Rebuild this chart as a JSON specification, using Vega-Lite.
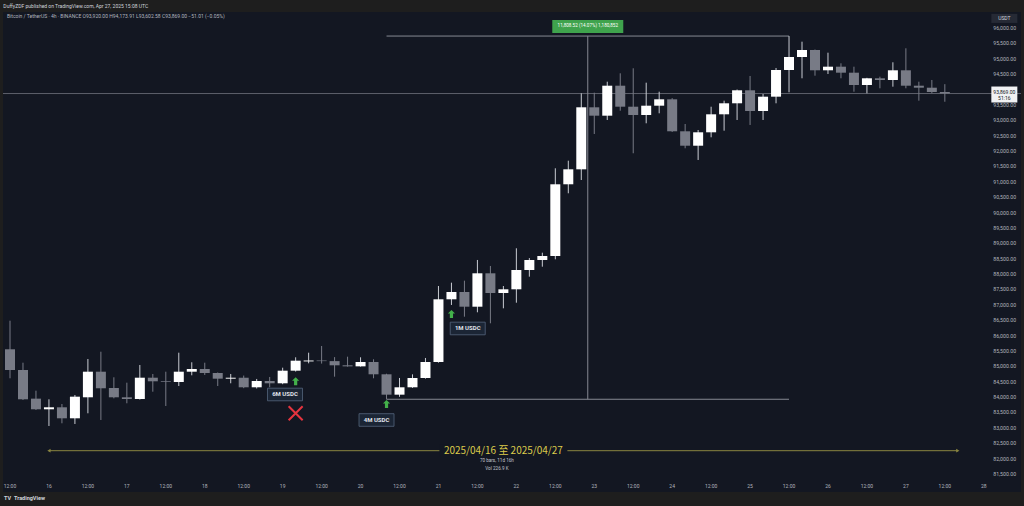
{
  "$schema": "https://vega.github.io/schema/vega-lite/v6.json",
  "width": 1018,
  "height": 480,
  "autosize": {"type": "none"},
  "padding": {"left": 3, "top": 12, "right": 3, "bottom": 14},
  "background": "#1e1e1e",
  "config": {"view": {"fill": "#131722", "stroke": null}, "scale": {"continuousPadding": 0}},
  "datasets": {
    "candles": [
      {"t": "2025-04-15T12:00:00Z", "o": 85555, "h": 86484, "l": 84612, "c": 84882},
      {"t": "2025-04-15T16:00:00Z", "o": 84882, "h": 85119, "l": 83906, "c": 83929},
      {"t": "2025-04-15T20:00:00Z", "o": 83950, "h": 84209, "l": 83581, "c": 83604},
      {"t": "2025-04-16T00:00:00Z", "o": 83604, "h": 83929, "l": 83061, "c": 83669},
      {"t": "2025-04-16T04:00:00Z", "o": 83669, "h": 83776, "l": 83149, "c": 83311},
      {"t": "2025-04-16T08:00:00Z", "o": 83311, "h": 84069, "l": 83126, "c": 84014},
      {"t": "2025-04-16T12:00:00Z", "o": 83994, "h": 85239, "l": 83474, "c": 84826},
      {"t": "2025-04-16T16:00:00Z", "o": 84826, "h": 85476, "l": 83256, "c": 84287},
      {"t": "2025-04-16T20:00:00Z", "o": 84296, "h": 84644, "l": 83960, "c": 83994},
      {"t": "2025-04-17T00:00:00Z", "o": 83994, "h": 84469, "l": 83799, "c": 83939},
      {"t": "2025-04-17T04:00:00Z", "o": 83939, "h": 85044, "l": 83920, "c": 84631},
      {"t": "2025-04-17T08:00:00Z", "o": 84631, "h": 84752, "l": 84176, "c": 84514},
      {"t": "2025-04-17T12:00:00Z", "o": 84514, "h": 84826, "l": 83711, "c": 84491},
      {"t": "2025-04-17T16:00:00Z", "o": 84491, "h": 85444, "l": 84361, "c": 84826},
      {"t": "2025-04-17T20:00:00Z", "o": 84826, "h": 85132, "l": 84709, "c": 84914},
      {"t": "2025-04-18T00:00:00Z", "o": 84914, "h": 85119, "l": 84720, "c": 84784},
      {"t": "2025-04-18T04:00:00Z", "o": 84784, "h": 84800, "l": 84361, "c": 84599},
      {"t": "2025-04-18T08:00:00Z", "o": 84599, "h": 84752, "l": 84449, "c": 84630},
      {"t": "2025-04-18T12:00:00Z", "o": 84630, "h": 84700, "l": 84290, "c": 84319},
      {"t": "2025-04-18T16:00:00Z", "o": 84319, "h": 84590, "l": 84280, "c": 84524},
      {"t": "2025-04-18T20:00:00Z", "o": 84524, "h": 84655, "l": 84320, "c": 84449},
      {"t": "2025-04-19T00:00:00Z", "o": 84449, "h": 84956, "l": 84420, "c": 84859},
      {"t": "2025-04-19T04:00:00Z", "o": 84859, "h": 85294, "l": 84830, "c": 85184},
      {"t": "2025-04-19T08:00:00Z", "o": 85160, "h": 85444, "l": 85099, "c": 85190},
      {"t": "2025-04-19T12:00:00Z", "o": 85190, "h": 85662, "l": 85090, "c": 85170},
      {"t": "2025-04-19T16:00:00Z", "o": 85170, "h": 85300, "l": 84664, "c": 85034},
      {"t": "2025-04-19T20:00:00Z", "o": 85034, "h": 85314, "l": 84990, "c": 85000},
      {"t": "2025-04-20T00:00:00Z", "o": 85000, "h": 85294, "l": 84990, "c": 85142},
      {"t": "2025-04-20T04:00:00Z", "o": 85142, "h": 85229, "l": 84612, "c": 84742},
      {"t": "2025-04-20T08:00:00Z", "o": 84742, "h": 84760, "l": 83930, "c": 84079},
      {"t": "2025-04-20T12:00:00Z", "o": 84079, "h": 84622, "l": 84010, "c": 84319},
      {"t": "2025-04-20T16:00:00Z", "o": 84319, "h": 84740, "l": 84300, "c": 84622},
      {"t": "2025-04-20T20:00:00Z", "o": 84622, "h": 85272, "l": 84600, "c": 85142},
      {"t": "2025-04-21T00:00:00Z", "o": 85142, "h": 87612, "l": 85120, "c": 87180},
      {"t": "2025-04-21T04:00:00Z", "o": 87180, "h": 87720, "l": 86995, "c": 87417},
      {"t": "2025-04-21T08:00:00Z", "o": 87417, "h": 87785, "l": 86614, "c": 86939},
      {"t": "2025-04-21T12:00:00Z", "o": 86939, "h": 88458, "l": 86757, "c": 88025},
      {"t": "2025-04-21T16:00:00Z", "o": 88025, "h": 88263, "l": 86400, "c": 87385},
      {"t": "2025-04-21T20:00:00Z", "o": 87385, "h": 87612, "l": 86887, "c": 87505},
      {"t": "2025-04-22T00:00:00Z", "o": 87505, "h": 88838, "l": 87069, "c": 88133},
      {"t": "2025-04-22T04:00:00Z", "o": 88133, "h": 88520, "l": 87915, "c": 88458},
      {"t": "2025-04-22T08:00:00Z", "o": 88458, "h": 88695, "l": 88240, "c": 88588},
      {"t": "2025-04-22T12:00:00Z", "o": 88588, "h": 91439, "l": 88480, "c": 90919},
      {"t": "2025-04-22T16:00:00Z", "o": 90919, "h": 91686, "l": 90626, "c": 91406},
      {"t": "2025-04-22T20:00:00Z", "o": 91406, "h": 93877, "l": 91058, "c": 93422},
      {"t": "2025-04-23T00:00:00Z", "o": 93422, "h": 93897, "l": 92554, "c": 93149},
      {"t": "2025-04-23T04:00:00Z", "o": 93149, "h": 94254, "l": 93009, "c": 94124},
      {"t": "2025-04-23T08:00:00Z", "o": 94124, "h": 94527, "l": 93311, "c": 93441},
      {"t": "2025-04-23T12:00:00Z", "o": 93441, "h": 94690, "l": 91927, "c": 93172},
      {"t": "2025-04-23T16:00:00Z", "o": 93172, "h": 94222, "l": 92902, "c": 93474},
      {"t": "2025-04-23T20:00:00Z", "o": 93474, "h": 93929, "l": 93227, "c": 93682},
      {"t": "2025-04-24T00:00:00Z", "o": 93682, "h": 93720, "l": 92620, "c": 92642},
      {"t": "2025-04-24T04:00:00Z", "o": 92642, "h": 92879, "l": 92089, "c": 92173},
      {"t": "2025-04-24T08:00:00Z", "o": 92173, "h": 92684, "l": 91709, "c": 92609},
      {"t": "2025-04-24T12:00:00Z", "o": 92609, "h": 93441, "l": 92447, "c": 93194},
      {"t": "2025-04-24T16:00:00Z", "o": 93194, "h": 93637, "l": 92661, "c": 93552},
      {"t": "2025-04-24T20:00:00Z", "o": 93552, "h": 94000, "l": 93009, "c": 93975},
      {"t": "2025-04-25T00:00:00Z", "o": 93975, "h": 94440, "l": 92847, "c": 93302},
      {"t": "2025-04-25T04:00:00Z", "o": 93302, "h": 93854, "l": 93009, "c": 93767},
      {"t": "2025-04-25T08:00:00Z", "o": 93767, "h": 94700, "l": 93552, "c": 94635},
      {"t": "2025-04-25T12:00:00Z", "o": 94635, "h": 95738, "l": 93910, "c": 95057},
      {"t": "2025-04-25T16:00:00Z", "o": 95057, "h": 95555, "l": 94365, "c": 95285},
      {"t": "2025-04-25T20:00:00Z", "o": 95285, "h": 95300, "l": 94449, "c": 94625},
      {"t": "2025-04-26T00:00:00Z", "o": 94625, "h": 95197, "l": 94505, "c": 94742},
      {"t": "2025-04-26T04:00:00Z", "o": 94742, "h": 94852, "l": 94365, "c": 94547},
      {"t": "2025-04-26T08:00:00Z", "o": 94547, "h": 94742, "l": 93929, "c": 94147},
      {"t": "2025-04-26T12:00:00Z", "o": 94147, "h": 94380, "l": 93877, "c": 94365},
      {"t": "2025-04-26T16:00:00Z", "o": 94365, "h": 94417, "l": 94040, "c": 94310},
      {"t": "2025-04-26T20:00:00Z", "o": 94310, "h": 94885, "l": 94092, "c": 94625},
      {"t": "2025-04-27T00:00:00Z", "o": 94625, "h": 95340, "l": 94040, "c": 94124},
      {"t": "2025-04-27T04:00:00Z", "o": 94124, "h": 94254, "l": 93637, "c": 94059},
      {"t": "2025-04-27T08:00:00Z", "o": 94059, "h": 94310, "l": 93880, "c": 93920},
      {"t": "2025-04-27T12:00:00Z", "o": 93920, "h": 94173.91, "l": 93602.58, "c": 93869}
    ],
    "last": [{"p": 93869, "t": "2025-04-28T06:20:00Z", "price": "93,869.00", "countdown": "51:16"}],
    "drange": [{"t1": "2025-04-16T00:00:00Z", "t2": "2025-04-27T16:00:00Z", "tm": "2025-04-21T20:00:00Z", "p": 82258, "label": "2025/04/16 至 2025/04/27"}],
    "dends": [{"t": "2025-04-16T00:00:00Z", "p": 82258, "end": "start"}, {"t": "2025-04-27T16:00:00Z", "p": 82258, "end": "end"}],
    "dsub": [{"t": "2025-04-21T18:00:00Z", "p": 81923, "label": "70 bars, 11d 16h"}, {"t": "2025-04-21T18:00:00Z", "p": 81663, "label": "Vol 226.9 K"}],
    "mh": [{"t1": "2025-04-20T08:00:00Z", "t2": "2025-04-25T12:00:00Z", "p": 95738}, {"t1": "2025-04-20T08:00:00Z", "t2": "2025-04-25T12:00:00Z", "p": 83930}],
    "mv": [{"t": "2025-04-22T22:00:00Z", "p1": 83930, "p2": 95738}],
    "mlabel": [{"t": "2025-04-22T22:00:00Z", "p": 96049, "label": "11,808.52 (14.07%) 1,180,852"}],
    "arrows": [{"t": "2025-04-19T04:00:00Z", "p": 84518}, {"t": "2025-04-20T08:00:00Z", "p": 83776}, {"t": "2025-04-21T04:00:00Z", "p": 86702}],
    "tags": [{"t": "2025-04-19T00:43:00Z", "p": 84085, "label": "6M USDC"}, {"t": "2025-04-20T04:55:00Z", "p": 83256, "label": "4M USDC"}, {"t": "2025-04-21T09:01:00Z", "p": 86231, "label": "1M USDC"}],
    "cross": [{"t": "2025-04-19T04:00:00Z", "p": 83474}],
    "unit": [{"t": "2025-04-28T06:20:00Z", "p": 96312, "label": "USDT"}],
    "legend": [{"t": "2025-04-15T11:04:00Z", "p": 96374, "label": "Bitcoin / TetherUS · 4h · BINANCE   O93,920.00  H94,173.91  L93,602.58  C93,869.00  −51.01 (−0.05%)"}],
    "header": [{"t": "2025-04-15T09:57:00Z", "p": 96715, "label": "DuffyZDF published on TradingView.com, Apr 27, 2025 15:08 UTC"}],
    "logo": [{"t": "2025-04-15T10:09:00Z", "p": 80704, "label": "TV"}, {"t": "2025-04-15T13:14:00Z", "p": 80704, "label": "TradingView"}],
    "yticks": [{"v": 81500}, {"v": 82000}, {"v": 82500}, {"v": 83000}, {"v": 83500}, {"v": 84000}, {"v": 84500}, {"v": 85000}, {"v": 85500}, {"v": 86000}, {"v": 86500}, {"v": 87000}, {"v": 87500}, {"v": 88000}, {"v": 88500}, {"v": 89000}, {"v": 89500}, {"v": 90000}, {"v": 90500}, {"v": 91000}, {"v": 91500}, {"v": 92000}, {"v": 92500}, {"v": 93000}, {"v": 93500}, {"v": 94000}, {"v": 94500}, {"v": 95000}, {"v": 95500}, {"v": 96000}],
    "xticks": [
      {"t": "2025-04-15T12:00:00Z", "label": "12:00"}, {"t": "2025-04-16T00:00:00Z", "label": "16"},
      {"t": "2025-04-16T12:00:00Z", "label": "12:00"}, {"t": "2025-04-17T00:00:00Z", "label": "17"},
      {"t": "2025-04-17T12:00:00Z", "label": "12:00"}, {"t": "2025-04-18T00:00:00Z", "label": "18"},
      {"t": "2025-04-18T12:00:00Z", "label": "12:00"}, {"t": "2025-04-19T00:00:00Z", "label": "19"},
      {"t": "2025-04-19T12:00:00Z", "label": "12:00"}, {"t": "2025-04-20T00:00:00Z", "label": "20"},
      {"t": "2025-04-20T12:00:00Z", "label": "12:00"}, {"t": "2025-04-21T00:00:00Z", "label": "21"},
      {"t": "2025-04-21T12:00:00Z", "label": "12:00"}, {"t": "2025-04-22T00:00:00Z", "label": "22"},
      {"t": "2025-04-22T12:00:00Z", "label": "12:00"}, {"t": "2025-04-23T00:00:00Z", "label": "23"},
      {"t": "2025-04-23T12:00:00Z", "label": "12:00"}, {"t": "2025-04-24T00:00:00Z", "label": "24"},
      {"t": "2025-04-24T12:00:00Z", "label": "12:00"}, {"t": "2025-04-25T00:00:00Z", "label": "25"},
      {"t": "2025-04-25T12:00:00Z", "label": "12:00"}, {"t": "2025-04-26T00:00:00Z", "label": "26"},
      {"t": "2025-04-26T12:00:00Z", "label": "12:00"}, {"t": "2025-04-27T00:00:00Z", "label": "27"},
      {"t": "2025-04-27T12:00:00Z", "label": "12:00"}, {"t": "2025-04-28T00:00:00Z", "label": "28"}
    ]
  },
  "layer": [
    {
      "data": {"name": "last"},
      "mark": {"type": "rule", "color": "#5d606b", "strokeWidth": 1},
      "encoding": {
        "y": {"field": "p", "type": "quantitative", "scale": {"domain": [80915, 96520], "nice": false, "zero": false}, "axis": null}
      }
    },
    {
      "data": {"name": "xticks"},
      "mark": {"type": "text", "font": "Roboto", "fontSize": 5, "color": "#b2b5be", "align": "center", "baseline": "middle"},
      "encoding": {
        "x": {"field": "t", "type": "temporal", "scale": {"type": "utc", "padding": 0, "domain": [{"year": 2025, "month": 4, "date": 15, "hours": 9, "minutes": 50, "seconds": 36, "utc": true}, {"year": 2025, "month": 4, "date": 28, "hours": 11, "minutes": 28, "utc": true}], "nice": false}, "axis": null},
        "y": {"datum": 81110, "type": "quantitative", "scale": {"domain": [80915, 96520], "nice": false, "zero": false}, "axis": null},
        "text": {"field": "label"}
      }
    },
    {
      "data": {"name": "yticks"},
      "mark": {"type": "text", "font": "Roboto", "fontSize": 5.2, "color": "#b2b5be", "align": "left", "baseline": "middle"},
      "encoding": {
        "x": {"datum": {"year": 2025, "month": 4, "date": 28, "hours": 2, "minutes": 55, "utc": true}, "type": "temporal", "scale": {"type": "utc", "padding": 0, "domain": [{"year": 2025, "month": 4, "date": 15, "hours": 9, "minutes": 50, "seconds": 36, "utc": true}, {"year": 2025, "month": 4, "date": 28, "hours": 11, "minutes": 28, "utc": true}], "nice": false}, "axis": null},
        "y": {"field": "v", "type": "quantitative", "scale": {"domain": [80915, 96520], "nice": false, "zero": false}, "axis": null},
        "text": {"field": "v", "type": "quantitative", "format": ",.2f"}
      }
    },
    {
      "data": {"name": "drange"},
      "mark": {"type": "rule", "color": "#8a8640", "strokeWidth": 1},
      "encoding": {
        "x": {"field": "t1", "type": "temporal", "scale": {"type": "utc", "padding": 0, "domain": [{"year": 2025, "month": 4, "date": 15, "hours": 9, "minutes": 50, "seconds": 36, "utc": true}, {"year": 2025, "month": 4, "date": 28, "hours": 11, "minutes": 28, "utc": true}], "nice": false}, "axis": null},
        "x2": {"field": "t2"},
        "y": {"field": "p", "type": "quantitative", "scale": {"domain": [80915, 96520], "nice": false, "zero": false}, "axis": null}
      }
    },
    {
      "data": {"name": "dends"},
      "mark": {"type": "point", "filled": true, "opacity": 1, "size": 14, "color": "#8a8640"},
      "encoding": {
        "x": {"field": "t", "type": "temporal", "scale": {"type": "utc", "padding": 0, "domain": [{"year": 2025, "month": 4, "date": 15, "hours": 9, "minutes": 50, "seconds": 36, "utc": true}, {"year": 2025, "month": 4, "date": 28, "hours": 11, "minutes": 28, "utc": true}], "nice": false}, "axis": null},
        "y": {"field": "p", "type": "quantitative", "scale": {"domain": [80915, 96520], "nice": false, "zero": false}, "axis": null},
        "shape": {"field": "end", "type": "nominal", "scale": {"domain": ["start", "end"], "range": ["triangle-left", "triangle-right"]}, "legend": null}
      }
    },
    {
      "data": {"name": "mh"},
      "mark": {"type": "rule", "color": "#868993", "strokeWidth": 1},
      "encoding": {
        "x": {"field": "t1", "type": "temporal", "scale": {"type": "utc", "padding": 0, "domain": [{"year": 2025, "month": 4, "date": 15, "hours": 9, "minutes": 50, "seconds": 36, "utc": true}, {"year": 2025, "month": 4, "date": 28, "hours": 11, "minutes": 28, "utc": true}], "nice": false}, "axis": null},
        "x2": {"field": "t2"},
        "y": {"field": "p", "type": "quantitative", "scale": {"domain": [80915, 96520], "nice": false, "zero": false}, "axis": null}
      }
    },
    {
      "data": {"name": "mv"},
      "mark": {"type": "rule", "color": "#868993", "strokeWidth": 1},
      "encoding": {
        "x": {"field": "t", "type": "temporal", "scale": {"type": "utc", "padding": 0, "domain": [{"year": 2025, "month": 4, "date": 15, "hours": 9, "minutes": 50, "seconds": 36, "utc": true}, {"year": 2025, "month": 4, "date": 28, "hours": 11, "minutes": 28, "utc": true}], "nice": false}, "axis": null},
        "y": {"field": "p1", "type": "quantitative", "scale": {"domain": [80915, 96520], "nice": false, "zero": false}, "axis": null},
        "y2": {"field": "p2"}
      }
    },
    {
      "data": {"name": "candles"},
      "mark": {"type": "rule", "strokeWidth": 1},
      "encoding": {
        "x": {"field": "t", "type": "temporal", "scale": {"type": "utc", "padding": 0, "domain": [{"year": 2025, "month": 4, "date": 15, "hours": 9, "minutes": 50, "seconds": 36, "utc": true}, {"year": 2025, "month": 4, "date": 28, "hours": 11, "minutes": 28, "utc": true}], "nice": false}, "axis": null},
        "y": {"field": "l", "type": "quantitative", "scale": {"domain": [80915, 96520], "nice": false, "zero": false}, "axis": null},
        "y2": {"field": "h"},
        "color": {"condition": {"test": "datum.c >= datum.o", "value": "#c9ccd3"}, "value": "#787b86"}
      }
    },
    {
      "data": {"name": "candles"},
      "mark": {"type": "bar", "width": 10, "minBandSize": 1.2},
      "encoding": {
        "x": {"field": "t", "type": "temporal", "scale": {"type": "utc", "padding": 0, "domain": [{"year": 2025, "month": 4, "date": 15, "hours": 9, "minutes": 50, "seconds": 36, "utc": true}, {"year": 2025, "month": 4, "date": 28, "hours": 11, "minutes": 28, "utc": true}], "nice": false}, "axis": null},
        "y": {"field": "o", "type": "quantitative", "scale": {"domain": [80915, 96520], "nice": false, "zero": false}, "axis": null},
        "y2": {"field": "c"},
        "color": {"condition": {"test": "datum.c >= datum.o", "value": "#ffffff"}, "value": "#787b86"}
      }
    },
    {
      "data": {"name": "drange"},
      "mark": {"type": "point", "shape": "M-1,-0.1H1V0.1H-1Z", "size": 16384, "filled": true, "opacity": 1, "color": "#131722", "strokeWidth": 0},
      "encoding": {
        "x": {"field": "tm", "type": "temporal", "scale": {"type": "utc", "padding": 0, "domain": [{"year": 2025, "month": 4, "date": 15, "hours": 9, "minutes": 50, "seconds": 36, "utc": true}, {"year": 2025, "month": 4, "date": 28, "hours": 11, "minutes": 28, "utc": true}], "nice": false}, "axis": null},
        "y": {"field": "p", "type": "quantitative", "scale": {"domain": [80915, 96520], "nice": false, "zero": false}, "axis": null}
      }
    },
    {
      "data": {"name": "drange"},
      "mark": {"type": "text", "font": "Noto Sans CJK SC", "fontSize": 10, "color": "#dccb4b", "align": "center", "baseline": "middle"},
      "encoding": {
        "x": {"field": "tm", "type": "temporal", "scale": {"type": "utc", "padding": 0, "domain": [{"year": 2025, "month": 4, "date": 15, "hours": 9, "minutes": 50, "seconds": 36, "utc": true}, {"year": 2025, "month": 4, "date": 28, "hours": 11, "minutes": 28, "utc": true}], "nice": false}, "axis": null},
        "y": {"field": "p", "type": "quantitative", "scale": {"domain": [80915, 96520], "nice": false, "zero": false}, "axis": null},
        "text": {"field": "label"}
      }
    },
    {
      "data": {"name": "dsub"},
      "mark": {"type": "text", "font": "Roboto", "fontSize": 4.6, "color": "#c3c6ce", "align": "center", "baseline": "middle"},
      "encoding": {
        "x": {"field": "t", "type": "temporal", "scale": {"type": "utc", "padding": 0, "domain": [{"year": 2025, "month": 4, "date": 15, "hours": 9, "minutes": 50, "seconds": 36, "utc": true}, {"year": 2025, "month": 4, "date": 28, "hours": 11, "minutes": 28, "utc": true}], "nice": false}, "axis": null},
        "y": {"field": "p", "type": "quantitative", "scale": {"domain": [80915, 96520], "nice": false, "zero": false}, "axis": null},
        "text": {"field": "label"}
      }
    },
    {
      "data": {"name": "arrows"},
      "mark": {"type": "point", "shape": "M0,-1L0.9,-0.1H0.4V1H-0.4V-0.1H-0.9Z", "size": 64, "filled": true, "opacity": 1, "color": "#43b04a", "strokeWidth": 0},
      "encoding": {
        "x": {"field": "t", "type": "temporal", "scale": {"type": "utc", "padding": 0, "domain": [{"year": 2025, "month": 4, "date": 15, "hours": 9, "minutes": 50, "seconds": 36, "utc": true}, {"year": 2025, "month": 4, "date": 28, "hours": 11, "minutes": 28, "utc": true}], "nice": false}, "axis": null},
        "y": {"field": "p", "type": "quantitative", "scale": {"domain": [80915, 96520], "nice": false, "zero": false}, "axis": null}
      }
    },
    {
      "data": {"name": "tags"},
      "mark": {"type": "point", "shape": "M-1,-0.36H1V0.36H-1Z", "size": 1225, "filled": true, "opacity": 1, "fill": "#1b2535", "stroke": "#56667d", "strokeWidth": 0.8},
      "encoding": {
        "x": {"field": "t", "type": "temporal", "scale": {"type": "utc", "padding": 0, "domain": [{"year": 2025, "month": 4, "date": 15, "hours": 9, "minutes": 50, "seconds": 36, "utc": true}, {"year": 2025, "month": 4, "date": 28, "hours": 11, "minutes": 28, "utc": true}], "nice": false}, "axis": null},
        "y": {"field": "p", "type": "quantitative", "scale": {"domain": [80915, 96520], "nice": false, "zero": false}, "axis": null}
      }
    },
    {
      "data": {"name": "tags"},
      "mark": {"type": "text", "font": "Roboto", "fontSize": 6, "fontWeight": "bold", "color": "#e0e3eb", "align": "center", "baseline": "middle"},
      "encoding": {
        "x": {"field": "t", "type": "temporal", "scale": {"type": "utc", "padding": 0, "domain": [{"year": 2025, "month": 4, "date": 15, "hours": 9, "minutes": 50, "seconds": 36, "utc": true}, {"year": 2025, "month": 4, "date": 28, "hours": 11, "minutes": 28, "utc": true}], "nice": false}, "axis": null},
        "y": {"field": "p", "type": "quantitative", "scale": {"domain": [80915, 96520], "nice": false, "zero": false}, "axis": null},
        "text": {"field": "label"}
      }
    },
    {
      "data": {"name": "cross"},
      "mark": {"type": "point", "shape": "M-1,-1L1,1M1,-1L-1,1", "size": 196, "filled": false, "opacity": 1, "color": "#e5343f", "strokeWidth": 2},
      "encoding": {
        "x": {"field": "t", "type": "temporal", "scale": {"type": "utc", "padding": 0, "domain": [{"year": 2025, "month": 4, "date": 15, "hours": 9, "minutes": 50, "seconds": 36, "utc": true}, {"year": 2025, "month": 4, "date": 28, "hours": 11, "minutes": 28, "utc": true}], "nice": false}, "axis": null},
        "y": {"field": "p", "type": "quantitative", "scale": {"domain": [80915, 96520], "nice": false, "zero": false}, "axis": null}
      }
    },
    {
      "data": {"name": "mlabel"},
      "mark": {"type": "point", "shape": "M-1,-0.183H1V0.183H-1Z", "size": 5041, "filled": true, "opacity": 1, "color": "#3fa34d", "strokeWidth": 0},
      "encoding": {
        "x": {"field": "t", "type": "temporal", "scale": {"type": "utc", "padding": 0, "domain": [{"year": 2025, "month": 4, "date": 15, "hours": 9, "minutes": 50, "seconds": 36, "utc": true}, {"year": 2025, "month": 4, "date": 28, "hours": 11, "minutes": 28, "utc": true}], "nice": false}, "axis": null},
        "y": {"field": "p", "type": "quantitative", "scale": {"domain": [80915, 96520], "nice": false, "zero": false}, "axis": null}
      }
    },
    {
      "data": {"name": "mlabel"},
      "mark": {"type": "text", "font": "Roboto", "fontSize": 4.6, "color": "#ffffff", "align": "center", "baseline": "middle"},
      "encoding": {
        "x": {"field": "t", "type": "temporal", "scale": {"type": "utc", "padding": 0, "domain": [{"year": 2025, "month": 4, "date": 15, "hours": 9, "minutes": 50, "seconds": 36, "utc": true}, {"year": 2025, "month": 4, "date": 28, "hours": 11, "minutes": 28, "utc": true}], "nice": false}, "axis": null},
        "y": {"field": "p", "type": "quantitative", "scale": {"domain": [80915, 96520], "nice": false, "zero": false}, "axis": null},
        "text": {"field": "label"}
      }
    },
    {
      "data": {"name": "last"},
      "mark": {"type": "point", "shape": "M-1,-0.54H1V0.69H-1Z", "size": 676, "filled": true, "opacity": 1, "color": "#f0f1f3", "strokeWidth": 0},
      "encoding": {
        "x": {"field": "t", "type": "temporal", "scale": {"type": "utc", "padding": 0, "domain": [{"year": 2025, "month": 4, "date": 15, "hours": 9, "minutes": 50, "seconds": 36, "utc": true}, {"year": 2025, "month": 4, "date": 28, "hours": 11, "minutes": 28, "utc": true}], "nice": false}, "axis": null},
        "y": {"field": "p", "type": "quantitative", "scale": {"domain": [80915, 96520], "nice": false, "zero": false}, "axis": null}
      }
    },
    {
      "data": {"name": "last"},
      "mark": {"type": "text", "font": "Roboto", "fontSize": 5, "color": "#131722", "align": "center", "baseline": "middle", "dy": -1.5},
      "encoding": {
        "x": {"field": "t", "type": "temporal", "scale": {"type": "utc", "padding": 0, "domain": [{"year": 2025, "month": 4, "date": 15, "hours": 9, "minutes": 50, "seconds": 36, "utc": true}, {"year": 2025, "month": 4, "date": 28, "hours": 11, "minutes": 28, "utc": true}], "nice": false}, "axis": null},
        "y": {"field": "p", "type": "quantitative", "scale": {"domain": [80915, 96520], "nice": false, "zero": false}, "axis": null},
        "text": {"field": "price"}
      }
    },
    {
      "data": {"name": "last"},
      "mark": {"type": "text", "font": "Roboto", "fontSize": 5, "color": "#131722", "align": "center", "baseline": "middle", "dy": 4.5},
      "encoding": {
        "x": {"field": "t", "type": "temporal", "scale": {"type": "utc", "padding": 0, "domain": [{"year": 2025, "month": 4, "date": 15, "hours": 9, "minutes": 50, "seconds": 36, "utc": true}, {"year": 2025, "month": 4, "date": 28, "hours": 11, "minutes": 28, "utc": true}], "nice": false}, "axis": null},
        "y": {"field": "p", "type": "quantitative", "scale": {"domain": [80915, 96520], "nice": false, "zero": false}, "axis": null},
        "text": {"field": "countdown"}
      }
    },
    {
      "data": {"name": "unit"},
      "mark": {"type": "point", "shape": "M-1,-0.35H1V0.35H-1Z", "size": 676, "filled": true, "opacity": 1, "color": "#262a35", "strokeWidth": 0},
      "encoding": {
        "x": {"field": "t", "type": "temporal", "scale": {"type": "utc", "padding": 0, "domain": [{"year": 2025, "month": 4, "date": 15, "hours": 9, "minutes": 50, "seconds": 36, "utc": true}, {"year": 2025, "month": 4, "date": 28, "hours": 11, "minutes": 28, "utc": true}], "nice": false}, "axis": null},
        "y": {"field": "p", "type": "quantitative", "scale": {"domain": [80915, 96520], "nice": false, "zero": false}, "axis": null}
      }
    },
    {
      "data": {"name": "unit"},
      "mark": {"type": "text", "font": "Roboto", "fontSize": 5, "color": "#d1d4dc", "align": "center", "baseline": "middle"},
      "encoding": {
        "x": {"field": "t", "type": "temporal", "scale": {"type": "utc", "padding": 0, "domain": [{"year": 2025, "month": 4, "date": 15, "hours": 9, "minutes": 50, "seconds": 36, "utc": true}, {"year": 2025, "month": 4, "date": 28, "hours": 11, "minutes": 28, "utc": true}], "nice": false}, "axis": null},
        "y": {"field": "p", "type": "quantitative", "scale": {"domain": [80915, 96520], "nice": false, "zero": false}, "axis": null},
        "text": {"field": "label"}
      }
    },
    {
      "data": {"name": "legend"},
      "mark": {"type": "text", "font": "Roboto", "fontSize": 5, "color": "#b2b5be", "align": "left", "baseline": "middle"},
      "encoding": {
        "x": {"field": "t", "type": "temporal", "scale": {"type": "utc", "padding": 0, "domain": [{"year": 2025, "month": 4, "date": 15, "hours": 9, "minutes": 50, "seconds": 36, "utc": true}, {"year": 2025, "month": 4, "date": 28, "hours": 11, "minutes": 28, "utc": true}], "nice": false}, "axis": null},
        "y": {"field": "p", "type": "quantitative", "scale": {"domain": [80915, 96520], "nice": false, "zero": false}, "axis": null},
        "text": {"field": "label"}
      }
    },
    {
      "data": {"name": "header"},
      "mark": {"type": "text", "font": "Roboto", "fontSize": 5, "color": "#d1d4dc", "align": "left", "baseline": "middle"},
      "encoding": {
        "x": {"field": "t", "type": "temporal", "scale": {"type": "utc", "padding": 0, "domain": [{"year": 2025, "month": 4, "date": 15, "hours": 9, "minutes": 50, "seconds": 36, "utc": true}, {"year": 2025, "month": 4, "date": 28, "hours": 11, "minutes": 28, "utc": true}], "nice": false}, "axis": null},
        "y": {"field": "p", "type": "quantitative", "scale": {"domain": [80915, 96520], "nice": false, "zero": false}, "axis": null},
        "text": {"field": "label"}
      }
    },
    {
      "data": {"name": "logo"},
      "mark": {"type": "text", "font": "Roboto", "fontSize": 5.5, "fontWeight": "bold", "color": "#d1d4dc", "align": "left", "baseline": "middle"},
      "encoding": {
        "x": {"field": "t", "type": "temporal", "scale": {"type": "utc", "padding": 0, "domain": [{"year": 2025, "month": 4, "date": 15, "hours": 9, "minutes": 50, "seconds": 36, "utc": true}, {"year": 2025, "month": 4, "date": 28, "hours": 11, "minutes": 28, "utc": true}], "nice": false}, "axis": null},
        "y": {"field": "p", "type": "quantitative", "scale": {"domain": [80915, 96520], "nice": false, "zero": false}, "axis": null},
        "text": {"field": "label"}
      }
    }
  ]
}
